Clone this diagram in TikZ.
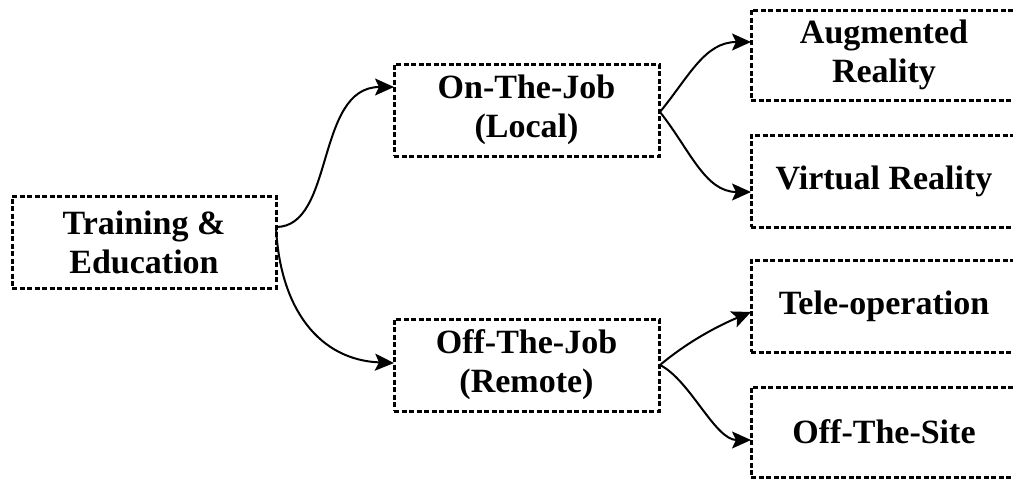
\documentclass[tikz,border=0pt]{standalone}
\usepackage{fontspec}
\setmainfont{Liberation Serif}
\usetikzlibrary{arrows.meta}
\begin{document}
\begin{tikzpicture}[x=1pt,y=-1pt,
  box/.style={draw=black,line width=3pt,dash pattern=on 5pt off 2.5pt,
    minimum width=#1,minimum height=92pt,inner sep=0pt,align=center,
    font=\fontsize{34}{39}\selectfont\bfseries},
  box/.default=265pt,
  conn/.style={line width=2pt,-{Stealth[length=19pt,width=17pt,inset=4pt]}}]
\clip (0,0) rectangle (1013,479);
\fill[white] (0,0) rectangle (1013,479);
\node[box=264pt] (tr) at (144,242) {Training \&\\Education};
\node[box] (oj) at (526.5,110) {On-The-Job\\(Local)};
\node[box] (fj) at (526.5,365) {Off-The-Job\\(Remote)};
\node[box=266pt,minimum height=90pt] (ar) at (884,55) {Augmented\\Reality};
\node[box=266pt] (vr) at (884,181) {Virtual Reality};
\node[box=266pt] (to) at (884,306) {Tele-operation};
\node[box=266pt,minimum height=90pt] (os) at (884,432) {Off-The-Site};
\coordinate (ts) at (276,227);
\coordinate (os1) at (660,112);
\coordinate (fs1) at (660,365);
\coordinate (arin) at (751,42);
\coordinate (vrin) at (751,192);
\coordinate (toin) at (751,312);
\coordinate (osin) at (751,440);
\coordinate (ojin) at (394,87);
\coordinate (fjin) at (394,363);
\draw[conn] (ts) .. controls (335,227) and (315,87) .. (ojin);
\draw[conn] (ts) .. controls (280,310) and (320,360) .. (fjin);
\draw[conn] (os1) .. controls (690,75) and (705,42) .. (arin);
\draw[conn] (os1) .. controls (690,150) and (705,192) .. (vrin);
\draw[conn] (fs1) .. controls (690,340) and (720,325) .. (toin);
\draw[conn] (fs1) .. controls (690,380) and (715,440) .. (osin);
\end{tikzpicture}
\end{document}
